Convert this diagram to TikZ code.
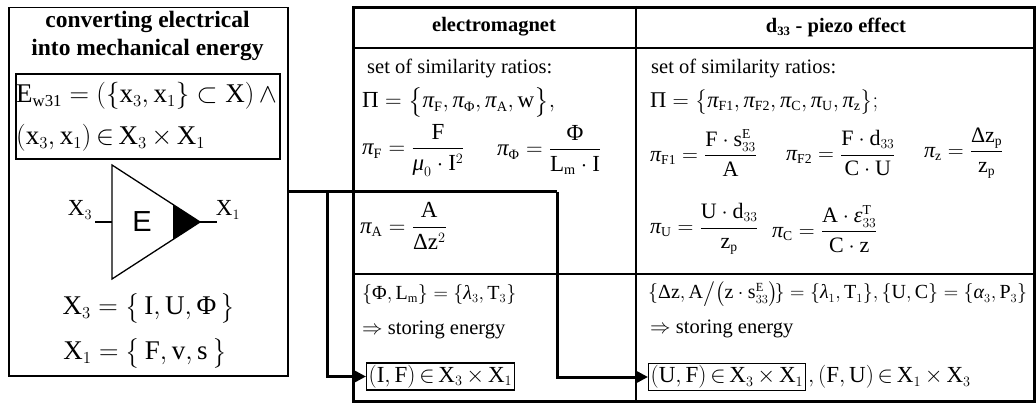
\RequirePackage{fix-cm}
\documentclass[tikz,border=0pt]{standalone}
\usepackage{amsmath}
\usepackage{fontspec}
\setmainfont{Liberation Serif}
\setmathrm{Liberation Serif}
\newfontfamily\sansf{Liberation Sans}
\usetikzlibrary{arrows.meta}
\renewcommand\defaultscriptratio{.62}
\renewcommand\defaultscriptscriptratio{.5}
\newcommand\R[1]{\mathrm{#1}}
\newcommand\gp{\textit{π}}
\newcommand\gPhi{\text{Φ}}
\newcommand\gPi{\text{Π}}
\newcommand\gD{\text{Δ}}
\newcommand\gmu{\textit{μ}}
\newcommand\glam{\textit{λ}}
\newcommand\galp{\textit{α}}
\newcommand\geps{\textit{ε}}
\newcommand\fsz[1]{\fontsize{#1}{#1}\selectfont}
\newcommand\tin{\mathrel{\mkern-2mu\in\mkern-2mu}}
\newcommand\ttimes{\mathbin{\mkern-1mu\times\mkern-1mu}}
\tikzset{
  outerbox/.style={draw, line width=1.5pt, inner sep=0pt, anchor=north west},
  tablebox/.style={draw, line width=3pt, inner sep=0pt, anchor=north west},
  gridline/.style={line width=1.3pt},
  wire/.style={line width=3pt},
  arrowwire/.style={line width=3pt, -{Triangle[length=13pt,width=13pt]}},
  txt/.style={inner sep=0pt, anchor=west},
  ctr/.style={inner sep=0pt},
  headtxt/.style={inner sep=0pt, font=\bfseries\fsz{20.5}},
  plain/.style={font=\fsz{20.5}},
  formula/.style={font=\fsz{23}},
  resultbox/.style={draw, line width=1.3pt, inner sep=2pt, anchor=west, font=\fsz{23}},
}
\begin{document}
\begin{tikzpicture}[x=1pt,y=-1pt]
\useasboundingbox (0,0) rectangle (1036,403);
% left box
\node[outerbox, minimum width=279pt, minimum height=368pt] (lbox) at (8,7) {};
\node[ctr, font=\bfseries\fsz{23.5}, align=center] (title) at (147.5,36)
  {converting electrical\\[4pt]into mechanical energy};
\node[draw, line width=1.8pt, inner sep=0pt, anchor=north west,
      minimum width=264pt, minimum height=85pt] (fbox) at (15,73) {};
\node[txt, font=\fsz{27}] (f1) at (16,96)
  {$\R{E}_{\R{w31}} = (\{\R{x}_3,\R{x}_1\}\subset \R{X})\mkern3mu\wedge$};
\node[txt, font=\fsz{27}] (f2) at (16,138)
  {$(\R{x}_3,\R{x}_1)\tin \R{X}_3\ttimes\R{X}_1$};
% converter triangle
\coordinate (tA) at (112,165);
\coordinate (tB) at (112,279);
\coordinate (tip) at (200,222);
\coordinate (fA) at (173,204.5);
\coordinate (fB) at (173,239.5);
\coordinate (inS) at (95,222);
\coordinate (outE) at (217,222);
\draw[line width=1.3pt, line join=miter] (tA) -- (tip) -- (tB) -- cycle;
\fill (fA) -- (tip) -- (fB) -- cycle;
\draw[line width=1.3pt] (inS) -- (112,222);
\draw[line width=1.3pt] (tip) -- (outE);
\node[ctr, font=\sansf\fsz{29}] (E) at (142,222) {E};
\node[ctr, font=\fsz{23}] (x3) at (80,210) {$\R{X}_3$};
\node[ctr, font=\fsz{23}] (x1) at (228,210) {$\R{X}_1$};
\node[ctr, font=\fsz{27}] (set3) at (149,308) {$\R{X}_3 = \bigl\{\,\R{I},\R{U},\gPhi\,\bigr\}$};
\node[ctr, font=\fsz{27}] (set1) at (145,353) {$\R{X}_1 = \bigl\{\,\R{F},\R{v},\R{s}\,\bigr\}$};
% table
\node[tablebox, minimum width=681pt, minimum height=394pt] (tbl) at (352,6) {};
\draw[gridline] (352,48) -- (1033,48);
\draw[gridline] (352,274) -- (1033,274);
\draw[gridline] (636,6) -- (636,400);
\node[headtxt] (h1) at (494,27) {electromagnet};
\node[headtxt] (h2) at (836,27) {d$_{\text{33}}$ - piezo effect};
% electromagnet column
\node[txt, plain] (s1) at (367,68) {set of similarity ratios:};
\node[txt, formula] (p1) at (362,102) {$\gPi = \bigl\{\gp_{\R{F}},\gp_{\gPhi},\gp_{\R{A}},\R{w}\bigr\},$};
\node[txt, formula] (pf) at (362,150) {$\gp_{\R{F}} = \dfrac{\R{F}}{\gmu_0\cdot \R{I}^2}$};
\node[txt, formula] (pphi) at (497,150) {$\gp_{\gPhi} = \dfrac{\gPhi}{\R{L}_{\R{m}}\cdot \R{I}}$};
\node[txt, formula] (pa) at (360,226) {$\gp_{\R{A}} = \dfrac{\R{A}}{\gD\R{z}^2}$};
\node[txt, font=\fsz{20}] (l1) at (362,295) {$\{\gPhi,\R{L}_{\R{m}}\} = \{\glam_3,\R{T}_3\}$};
\node[txt, plain] (st1) at (362,330) {$\Rightarrow$ storing energy};
\node[resultbox] (IF) at (366,376.5) {$(\R{I},\R{F})\tin \R{X}_3\ttimes\R{X}_1$};
% piezo column
\node[txt, plain] (s2) at (651,68) {set of similarity ratios:};
\node[txt, font=\fsz{22.5}] (p2) at (650,102) {$\gPi = \bigl\{\gp_{\R{F1}},\gp_{\R{F2}},\gp_{\R{C}},\gp_{\R{U}},\gp_{\R{z}}\bigr\};$};
\node[txt, font=\fsz{22}] (pf1) at (650,153) {$\gp_{\R{F1}} = \dfrac{\R{F}\cdot\R{s}^{\R{E}}_{33}}{\R{A}}$};
\node[txt, font=\fsz{22}] (pf2) at (786,153) {$\gp_{\R{F2}} = \dfrac{\R{F}\cdot\R{d}_{33}}{\R{C}\cdot\R{U}}$};
\node[txt, font=\fsz{22}] (pz) at (924,153) {$\gp_{\R{z}} = \dfrac{\gD\R{z}_{\R{p}}}{\R{z}_{\R{p}}}$};
\node[txt, font=\fsz{22}] (pu) at (650,229) {$\gp_{\R{U}} = \dfrac{\R{U}\cdot\R{d}_{33}}{\R{z}_{\R{p}}}$};
\node[txt, font=\fsz{22}] (pc) at (772,229) {$\gp_{\R{C}} = \dfrac{\R{A}\cdot\geps^{\R{T}}_{33}}{\R{C}\cdot\R{z}}$};
\node[txt, font=\fsz{20}] (l2) at (648,294) {$\{\gD\R{z},\R{A}\big/\bigl(\R{z}\cdot\R{s}^{\R{E}}_{33}\bigr)\!\} = \{\glam_1,\R{T}_1\},\{\R{U},\R{C}\} = \{\galp_3,\R{P}_3\}$};
\node[txt, plain] (st2) at (650,329) {$\Rightarrow$ storing energy};
\node[resultbox] (UF) at (648,377) {$(\R{U},\R{F})\tin \R{X}_3\ttimes\R{X}_1$};
\node[txt, font=\fsz{23}] (FU) at ([xshift=2pt]UF.east) {$,(\R{F},\R{U})\tin \R{X}_1\ttimes\R{X}_3$};
% wires
\coordinate (w0) at (287,192);
\coordinate (w1) at (557,192);
\coordinate (w2) at (557,377);
\coordinate (b1) at (327,192);
\coordinate (b2) at (327,376.5);
\draw[wire] (w0) -- (w1);
\draw[arrowwire] (w1) -- (w2) -- (UF.west);
\draw[arrowwire] (b1) -- (b2) -- (IF.west);
\end{tikzpicture}
\end{document}
